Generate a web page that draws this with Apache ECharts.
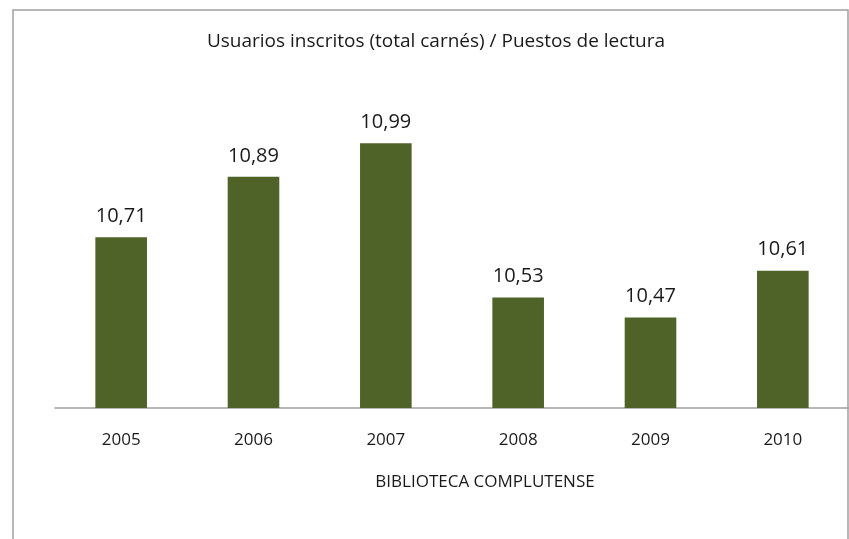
<!DOCTYPE html>
<html>
<head>
<meta charset="utf-8">
<script src="https://cdn.jsdelivr.net/npm/echarts@6/dist/echarts.min.js"></script>
<style>
  html, body { margin: 0; padding: 0; background: #fff; }
  #main { width: 849px; height: 539px; }
</style>
</head>
<body>
<div id="main"></div>
<script>
var years = ['2005', '2006', '2007', '2008', '2009', '2010'];
var ratio = [10.71, 10.89, 10.99, 10.53, 10.47, 10.61];

var chart = echarts.init(document.getElementById('main'));

var font = '"Open Sans", sans-serif';

var option = {
    animation: false,
    title: [{
        text: 'Usuarios inscritos (total carnés) / Puestos de lectura',
        left: 431,
        textAlign: 'center',
        top: 27,
        textStyle: { fontFamily: font, fontSize: 19, fontWeight: 'normal', color: '#1a1a1a' }
    }, {
        text: 'BIBLIOTECA COMPLUTENSE',
        left: 480,
        textAlign: 'center',
        top: 469,
        textStyle: { fontFamily: font, fontSize: 17, fontWeight: 'normal', color: '#1a1a1a' }
    }],
    grid: { left: 55, right: 0, top: 140, bottom: 131 },
    xAxis: {
        type: 'category',
        data: years,
        axisLine: { lineStyle: { color: '#a0a0a0', width: 1.5 } },
        axisTick: { show: false },
        axisLabel: { margin: 24, fontFamily: font, fontSize: 17, color: '#1a1a1a' }
    },
    yAxis: {
        type: 'value',
        min: 10.2,
        max: 11.0,
        show: false,
        splitLine: { show: false }
    },
    graphic: [{
        type: 'rect',
        shape: { x: 13, y: 10, width: 835, height: 600 },
        style: { fill: 'none', stroke: '#a0a0a0', lineWidth: 1.5 },
        silent: true
    }],
    series: [{
        type: 'bar',
        data: ratio,
        barWidth: '39%',
        itemStyle: { color: '#4F6228' },
        label: {
            show: true,
            position: 'top',
            distance: 11,
            fontFamily: font,
            fontSize: 20,
            color: '#1a1a1a',
            formatter: function (p) { return p.value.toFixed(2).replace('.', ','); }
        }
    }]
};

chart.setOption(option);
</script>
</body>
</html>
